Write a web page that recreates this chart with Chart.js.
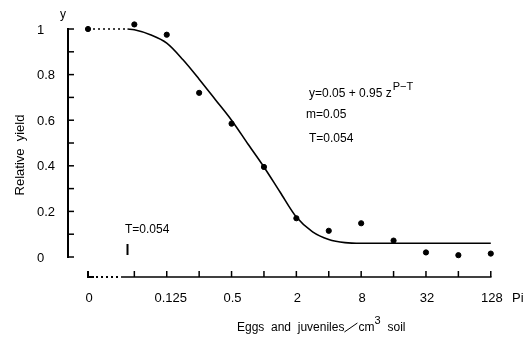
<!DOCTYPE html>
<html>
<head>
<meta charset="utf-8">
<script src="https://cdn.jsdelivr.net/npm/chart.js@4"></script>
<style>
  html, body { margin: 0; padding: 0; background: #fff; }
  #wrap { width: 528px; height: 339px; }
</style>
</head>
<body>
<div id="wrap"><canvas id="chartz" width="528" height="339"></canvas></div>
<script>
'use strict'

// observed points (P = 0 sits on the broken part of the axis)
const pointP = [0, 0.0625, 0.125, 0.25, 0.5, 1, 2, 4, 8, 16, 32, 64, 128];
const pointY = [1.0, 1.02, 0.975, 0.72, 0.585, 0.395, 0.17, 0.115, 0.148, 0.072, 0.02, 0.008, 0.015];

// fitted curve
const curveP = [0.054, 0.0625, 0.088, 0.125, 0.177, 0.25, 0.354, 0.5, 0.707, 1, 1.41, 2, 2.83, 4, 5.66, 8, 16, 32, 64, 128];
const curveY = [1.0, 0.997, 0.975, 0.938, 0.865, 0.78, 0.69, 0.6, 0.497, 0.395, 0.285, 0.175, 0.11, 0.077, 0.063, 0.06, 0.06, 0.06, 0.06, 0.06];

// dotted plateau from P = 0 to T
const plateauP = [0, 0.054];
const plateauY = [1, 1];

// axes
const xTickP = [0.0625, 0.125, 0.25, 0.5, 1, 2, 4, 8, 16, 32, 64, 128];
const xLabelP = [0, 0.125, 0.5, 2, 8, 32, 128];
const xLabels = ['0', '0.125', '0.5', '2', '8', '32', '128'];
const yTicks = [0, 0.1, 0.2, 0.3, 0.4, 0.5, 0.6, 0.7, 0.8, 0.9, 1];
const yLabelVals = [0, 0.2, 0.4, 0.6, 0.8, 1];
const yLabels = ['0', '0.2', '0.4', '0.6', '0.8', '1'];

const T_VALUE = 0.054;
const ZERO_POS = 0.0232; // where "0" is put on the log axis

const FONT = '"Liberation Sans", Arial, sans-serif';

function px(p) { return p === 0 ? ZERO_POS : p; }

function toXY(ps, ys) {
  return ps.map((p, i) => ({ x: px(p), y: ys[i] }));
}

// axes, labels and notes
const axesPlugin = {
  id: 'axesPlugin',
  afterDraw(chart) {
    const ctx = chart.ctx;
    const xs = chart.scales.x;
    const ys = chart.scales.y;
    const axisY = chart.chartArea.bottom;
    const axisX = chart.chartArea.left;

    ctx.save();
    ctx.strokeStyle = '#000';
    ctx.fillStyle = '#000';
    ctx.lineCap = 'butt';

    // y axis
    ctx.lineWidth = 2;
    ctx.beginPath();
    ctx.moveTo(axisX, ys.getPixelForValue(0) + 1);
    ctx.lineTo(axisX, ys.getPixelForValue(1) - 1);
    ctx.stroke();
    ctx.lineWidth = 1.5;
    yTicks.forEach(v => {
      const y = ys.getPixelForValue(v);
      ctx.beginPath();
      ctx.moveTo(axisX, y);
      ctx.lineTo(axisX + 6, y);
      ctx.stroke();
    });

    // x axis: dotted broken part, then solid
    const x0 = xs.getPixelForValue(ZERO_POS);
    const xBreak = xs.getPixelForValue(0.047);
    const xEnd = xs.getPixelForValue(128);
    ctx.lineWidth = 2;
    ctx.beginPath();
    ctx.moveTo(x0, axisY - 6);
    ctx.lineTo(x0, axisY);
    ctx.lineTo(x0 + 6, axisY);
    ctx.stroke();
    ctx.setLineDash([2, 3]);
    ctx.beginPath();
    ctx.moveTo(x0 + 8, axisY);
    ctx.lineTo(xBreak, axisY);
    ctx.stroke();
    ctx.setLineDash([]);
    ctx.lineWidth = 1.5;
    ctx.beginPath();
    ctx.moveTo(xBreak, axisY);
    ctx.lineTo(xEnd + 0.75, axisY);
    ctx.stroke();
    xTickP.forEach(p => {
      const x = xs.getPixelForValue(p);
      ctx.beginPath();
      ctx.moveTo(x, axisY);
      ctx.lineTo(x, axisY - 6);
      ctx.stroke();
    });

    // tick labels
    ctx.font = '13px ' + FONT;
    ctx.textBaseline = 'alphabetic';
    ctx.textAlign = 'center';
    xLabelP.forEach((p, i) => {
      ctx.fillText(xLabels[i], xs.getPixelForValue(px(p)) + (i === 1 ? 4 : 1), axisY + 25);
    });
    ctx.textAlign = 'left';
    ctx.fillText('Pi', 512, axisY + 25);
    ctx.textBaseline = 'middle';
    yLabelVals.forEach((v, i) => {
      ctx.fillText(yLabels[i], 37, ys.getPixelForValue(v) + 1);
    });

    // axis titles
    ctx.textBaseline = 'alphabetic';
    ctx.font = '12px ' + FONT;
    ctx.fillText('y', 60, 18);
    ctx.save();
    ctx.translate(24, 155);
    ctx.rotate(-Math.PI / 2);
    ctx.textAlign = 'center';
    ctx.font = '13px ' + FONT;
    ctx.fillText('Relative  yield', 0, 0);
    ctx.restore();

    // x title: Eggs and juveniles / cm3 soil
    ctx.font = '12px ' + FONT;
    let tx = 237;
    const ty = 331;
    const part1 = 'Eggs  and  juveniles';
    ctx.fillText(part1, tx, ty);
    tx += ctx.measureText(part1).width;
    ctx.lineWidth = 1;
    ctx.beginPath();
    ctx.moveTo(tx, ty + 1);
    ctx.lineTo(tx + 13, ty - 8);
    ctx.stroke();
    tx += 14;
    ctx.fillText('cm', tx, ty);
    tx += ctx.measureText('cm').width;
    ctx.font = '11px ' + FONT;
    ctx.fillText('3', tx, ty - 7);
    tx += ctx.measureText('3').width + 7;
    ctx.font = '12px ' + FONT;
    ctx.fillText('soil', tx, ty);

    // model notes
    ctx.font = '12px ' + FONT;
    const eq = 'y=0.05 + 0.95 z';
    ctx.fillText(eq, 309, 97);
    const eqW = ctx.measureText(eq).width;
    ctx.font = '11px ' + FONT;
    ctx.fillText('P\u2212T', 309 + eqW + 1, 90);
    ctx.font = '12px ' + FONT;
    ctx.fillText('m=0.05', 306, 118);
    ctx.fillText('T=0.054', 309, 142);

    // T marker above the axis
    ctx.fillText('T=0.054', 125, 233);
    const tX = xs.getPixelForValue(T_VALUE);
    ctx.lineWidth = 2;
    ctx.beginPath();
    ctx.moveTo(tX, 244);
    ctx.lineTo(tX, 255);
    ctx.stroke();

    ctx.restore();
  }
};

const data = {
  datasets: [
    {
      label: 'observed',
      data: toXY(pointP, pointY),
      backgroundColor: '#000',
      borderColor: '#000',
      pointRadius: 2.6,
      pointHoverRadius: 2.6,
      showLine: false
    },
    {
      label: 'fitted',
      data: toXY(curveP, curveY),
      borderColor: '#000',
      borderWidth: 1.6,
      pointRadius: 0,
      showLine: true,
      cubicInterpolationMode: 'monotone'
    },
    {
      label: 'plateau',
      data: toXY(plateauP, plateauY),
      borderColor: '#000',
      borderWidth: 1.6,
      borderDash: [2, 3],
      pointRadius: 0,
      showLine: true
    }
  ]
};

const config = {
  type: 'scatter',
  data: data,
  options: {
    responsive: false,
    animation: false,
    layout: { padding: { left: 68, right: 28, top: 20, bottom: 62 } },
    plugins: { legend: { display: false }, tooltip: { enabled: false } },
    scales: {
      x: { type: 'logarithmic', min: 0.01512, max: 155.9, bounds: 'data', display: false },
      y: { type: 'linear', min: -0.0877, max: 1.0395, bounds: 'data', display: false }
    }
  },
  plugins: [axesPlugin]
};

const myChart = new Chart(document.getElementById('chartz'), config);
</script>
</body>
</html>
